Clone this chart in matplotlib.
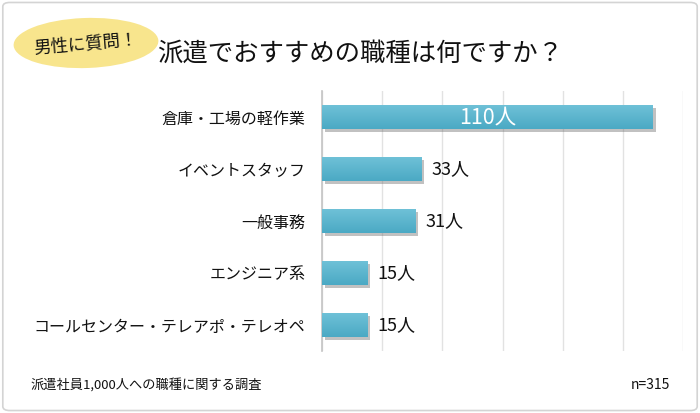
import matplotlib
matplotlib.use("Agg")
import matplotlib.pyplot as plt
import numpy as np
from matplotlib.patches import FancyBboxPatch, Ellipse
import matplotlib.patheffects as pe
from matplotlib.colors import LinearSegmentedColormap

plt.rcParams['font.family'] = ['Noto Sans CJK JP', 'DejaVu Sans']

categories = ["倉庫・工場の軽作業", "イベントスタッフ", "一般事務", "エンジニア系", "コールセンター・テレアポ・テレオペ"]
values = [110, 33, 31, 15, 15]
value_labels = ["110人", "33人", "31人", "15人", "15人"]
title = "派遣でおすすめの職種は何ですか？"
badge = "男性に質問！"
footer_left = "派遣社員1,000人への職種に関する調査"
footer_right = "n=315"

fig = plt.figure(figsize=(7.0, 4.13), dpi=100)
fig.patch.set_facecolor("white")

# outer border
border = FancyBboxPatch((0.004, 0.006), 0.992, 0.988, boxstyle="round,pad=0,rounding_size=0.01",
                        transform=fig.transFigure, facecolor="none", edgecolor="#d4d4d4", lw=1.2,
                        zorder=-5)
fig.patches.append(border)

ax = fig.add_axes([322/700, 62/413, 361/700, 260/413])
ax.set_facecolor("none")
y = np.arange(len(categories))
bars = ax.barh(y, values, height=0.47, color="#5ab4cd", edgecolor="none", zorder=3)
for b in bars:
    b.set_path_effects([pe.SimplePatchShadow(offset=(2.0, -2.0), shadow_rgbFace="#666666", alpha=0.4), pe.Normal()])

# gradient overlay
grad = np.linspace(0, 1, 100).reshape(-1, 1)
cmap = LinearSegmentedColormap.from_list("g", ["#70c2d8", "#4ba9c4"])
for b in bars:
    x0, y0 = b.get_x(), b.get_y()
    w, h = b.get_width(), b.get_height()
    im = ax.imshow(grad, extent=(x0, x0 + w, y0 + h, y0), aspect="auto", cmap=cmap, zorder=4)
    im.set_clip_path(b)

ax.set_xlim(0, 120)
ax.set_ylim(len(categories) - 0.5, -0.5)
ax.set_xticks(np.arange(0, 121, 20))
ax.xaxis.grid(True, color="#e2e2e2", lw=1.0, zorder=0)
ax.set_axisbelow(True)
ax.set_xticklabels([])
ax.tick_params(axis="both", length=0)
ax.set_yticks(y)
ax.set_yticklabels(categories, fontsize=11.5, color="#111111")
ax.tick_params(axis="y", pad=12)
for s in ["top", "right", "bottom"]:
    ax.spines[s].set_visible(False)
ax.spines["left"].set_color("#c4c4c4")
ax.spines["left"].set_linewidth(1.2)

for i, (v, lab) in enumerate(zip(values, value_labels)):
    if v > 60:
        ax.text(v / 2, i, lab, ha="center", va="center", color="white", fontsize=15.5, zorder=6)
    else:
        ax.text(v + 3.5, i, lab, ha="left", va="center", color="#111111", fontsize=13, zorder=6)

# badge
ell = Ellipse((86/700, 1 - 43/413), 145/700, 50/413, angle=4, transform=fig.transFigure,
              facecolor="#f8e58d", edgecolor="none")
fig.patches.append(ell)
fig.text(86/700, 1 - 44/413, badge, ha="center", va="center", fontsize=12.5, rotation=5, color="#111111")

fig.text(157/700, 1 - 54/413, title, ha="left", va="center", fontsize=18.3, color="#111111")

fig.text(30/700, 1 - 385/413, footer_left, ha="left", va="center", fontsize=9.5, color="#111111")
fig.text(670/700, 1 - 385/413, footer_right, ha="right", va="center", fontsize=10, color="#111111")

fig.savefig("out.png", dpi=100, facecolor="white")
